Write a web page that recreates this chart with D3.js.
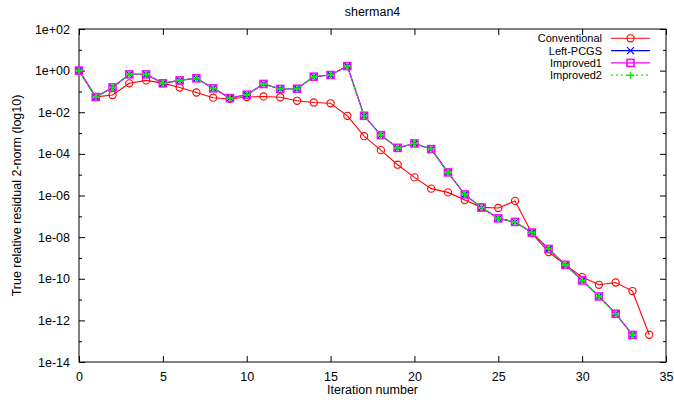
<!DOCTYPE html>
<html>
<head>
<meta charset="utf-8">
<script src="https://cdn.jsdelivr.net/npm/d3@7"></script>
<style>
  body { margin: 0; background: #fff; }
  svg { display: block; font-family: "Liberation Sans", Arial, sans-serif; }
</style>
</head>
<body>
<svg id="chart" width="674" height="402"></svg>
<script>
// ---- data (log10 of residual) ----
const iterConv = d3.range(0, 35);           // 0..34
const iterImp = d3.range(0, 34);            // 0..33
const conventional = [0, -1.26, -1.17, -0.61, -0.47, -0.60, -0.81, -1.05, -1.30, -1.36,
  -1.27, -1.24, -1.28, -1.45, -1.53, -1.57, -2.17, -3.15, -3.82, -4.52,
  -5.13, -5.67, -5.85, -6.22, -6.57, -6.60, -6.26, -7.81, -8.72, -9.33,
  -9.92, -10.29, -10.18, -10.59, -12.69];
const leftPCGS = [0, -1.27, -0.81, -0.18, -0.18, -0.61, -0.47, -0.37, -0.85, -1.32,
  -1.16, -0.64, -0.88, -0.87, -0.29, -0.21, 0.22, -2.17, -3.10, -3.71,
  -3.50, -3.77, -4.89, -5.95, -6.58, -7.10, -7.27, -7.78, -8.57, -9.33,
  -10.08, -10.85, -11.68, -12.70];
const improved1 = leftPCGS.slice();
const improved2 = leftPCGS.slice();
const seriesNames = ["Conventional", "Left-PCGS", "Improved1", "Improved2"];
const seriesColors = ["#ff0000", "#0000ff", "#ff00ff", "#00ee00"];
const yTickValues = [2, 0, -2, -4, -6, -8, -10, -12, -14];
const yTickLabels = ["1e+02", "1e+00", "1e-02", "1e-04", "1e-06", "1e-08", "1e-10", "1e-12", "1e-14"];
const yMinorValues = [1, -1, -3, -5, -7, -9, -11, -13];
const xTickValues = [0, 5, 10, 15, 20, 25, 30, 35];

// ---- layout ----
const L = 79, R = 666, T = 29, B = 362;
const svg = d3.select("#chart");
const x = d3.scaleLinear().domain([0, 35]).range([L, R]);
const y = d3.scaleLinear().domain([-14, 2]).range([B, T]);

// axes (ticks inward, mirrored)
const fs = "12.5px";
const axL = d3.axisLeft(y).tickValues(yTickValues).tickSize(-6).tickPadding(9)
  .tickFormat((d, i) => yTickLabels[i]);
svg.append("g").attr("transform", `translate(${L},0)`).call(axL)
  .call(g => { g.select(".domain").remove(); g.selectAll("text").attr("font-size", fs).attr("fill", "#000").attr("font-family", "Liberation Sans, Arial, sans-serif"); });
svg.append("g").attr("transform", `translate(${L},0)`).call(d3.axisLeft(y).tickValues(yMinorValues).tickSize(-3).tickFormat(""))
  .call(g => g.select(".domain").remove());
svg.append("g").attr("transform", `translate(${R},0)`).call(d3.axisRight(y).tickValues(yTickValues).tickSize(-6).tickFormat(""))
  .call(g => g.select(".domain").remove());
svg.append("g").attr("transform", `translate(${R},0)`).call(d3.axisRight(y).tickValues(yMinorValues).tickSize(-3).tickFormat(""))
  .call(g => g.select(".domain").remove());
const axB = d3.axisBottom(x).tickValues(xTickValues).tickSize(-6).tickPadding(10);
svg.append("g").attr("transform", `translate(0,${B})`).call(axB)
  .call(g => { g.select(".domain").remove(); g.selectAll("text").attr("font-size", fs).attr("fill", "#000").attr("font-family", "Liberation Sans, Arial, sans-serif"); });
svg.append("g").attr("transform", `translate(0,${T})`).call(d3.axisTop(x).tickValues(xTickValues).tickSize(-6).tickFormat(""))
  .call(g => g.select(".domain").remove());
svg.selectAll(".tick line").attr("stroke", "#000");

svg.append("rect").attr("x", L).attr("y", T).attr("width", R - L).attr("height", B - T)
  .attr("fill", "none").attr("stroke", "#000").attr("stroke-width", 1);

// titles
svg.append("text").attr("x", (L + R) / 2).attr("y", 16).attr("text-anchor", "middle")
  .attr("font-size", fs).text("sherman4");
svg.append("text").attr("x", (L + R) / 2).attr("y", 394).attr("text-anchor", "middle")
  .attr("font-size", fs).text("Iteration number");
svg.append("text").attr("transform", `translate(21,${(T + B) / 2}) rotate(-90)`).attr("text-anchor", "middle")
  .attr("font-size", fs).text("True relative residual 2-norm (log10)");

// markers
function marker(g, kind, color, cx, cy) {
  if (kind === 0) g.append("circle").attr("cx", cx).attr("cy", cy).attr("r", 3.6).attr("fill", "none").attr("stroke", color).attr("stroke-width", 1.1);
  if (kind === 1) g.append("path").attr("d", `M${cx-3.5},${cy-3.5}L${cx+3.5},${cy+3.5}M${cx-3.5},${cy+3.5}L${cx+3.5},${cy-3.5}`).attr("stroke", color).attr("stroke-width", 1.2);
  if (kind === 2) g.append("rect").attr("x", cx - 3.5).attr("y", cy - 3.5).attr("width", 7).attr("height", 7).attr("fill", "none").attr("stroke", color).attr("stroke-width", 1.6);
  if (kind === 3) g.append("path").attr("d", `M${cx-3.5},${cy}L${cx+3.5},${cy}M${cx},${cy-3.5}L${cx},${cy+3.5}`).attr("stroke", color).attr("stroke-width", 1.6);
}

const allSeries = [
  { xs: iterConv, ys: conventional },
  { xs: iterImp, ys: leftPCGS },
  { xs: iterImp, ys: improved1 },
  { xs: iterImp, ys: improved2 }
];
const line = d3.line().x(d => x(d[0])).y(d => y(d[1]));
allSeries.forEach((s, k) => {
  const pts = s.xs.map((v, i) => [v, s.ys[i]]);
  const g = svg.append("g");
  g.append("path").attr("d", line(pts)).attr("fill", "none").attr("stroke", seriesColors[k])
    .attr("stroke-width", k === 3 ? 1.3 : 1.1).attr("stroke-dasharray", k === 3 ? "2,3" : null);
  pts.forEach(p => marker(g, k, seriesColors[k], x(p[0]), y(p[1])));
});

// legend
seriesNames.forEach((name, k) => {
  const cy = 38.3 + k * 12.3;
  svg.append("text").attr("x", 602).attr("y", cy + 4).attr("text-anchor", "end")
    .attr("font-size", "11px").attr("textLength", null).text(name);
  svg.append("line").attr("x1", 611).attr("x2", 650).attr("y1", cy).attr("y2", cy)
    .attr("stroke", seriesColors[k]).attr("stroke-width", k === 3 ? 1.3 : 1.1)
    .attr("stroke-dasharray", k === 3 ? "2,3" : null);
  marker(svg, k, seriesColors[k], 630.5, cy);
});
</script>
</body>
</html>
